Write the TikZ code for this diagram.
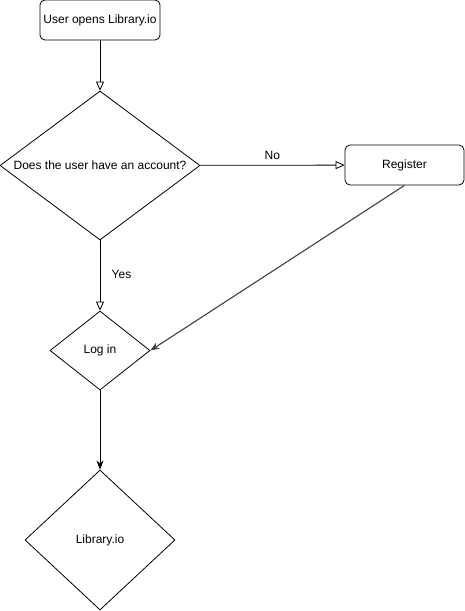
\documentclass[tikz,border=0pt]{standalone}
\usepackage{fontspec}
\setmainfont{Liberation Sans}
\usetikzlibrary{shapes.geometric,arrows.meta}

\tikzset{
	box/.style={draw, rounded corners=5pt, minimum width=120pt, minimum height=40pt, inner sep=0pt},
	decision/.style={draw, diamond, inner sep=0pt},
	flow/.style={-{Triangle[open,length=9pt,width=8pt]}},
	solid arrow/.style={-{Stealth[length=9pt,width=7pt]}}
}

\begin{document}
\begin{tikzpicture}[x=1pt, y=-1pt, font=\fontsize{12}{14}\selectfont, line width=0.8pt]
	
	\useasboundingbox (0,0) rectangle (465,611);
	
	\node [box] (start) at (100,20) {User opens Library.io};
	
	\node [decision, minimum width=200pt, minimum height=149pt, aspect=1.34] (account) at (100,165.5) {Does the user have an account?};
	
	\node [box, minimum width=119pt] (register) at (404.5,165) {Register};
	
	\node [decision, minimum width=100pt, minimum height=79pt] (login) at (100,350.5) {Log in};
	
	\node [decision, minimum width=150pt, minimum height=140pt] (library) at (100,540) {Library.io};
	
	\draw [flow] (start) -- (account);
	
	\draw [flow] (account) -- (register) node [midway, above=2pt] (no) {No};
	
	\draw [flow] (account) -- (login) node [pos=0.48, right=8pt] (yes) {Yes};
	
	\draw [solid arrow, draw=black!75, line width=1.1pt] (register.south) -- (login.east);
	
	\draw [solid arrow] (login) -- (library);
	
\end{tikzpicture}
\end{document}
